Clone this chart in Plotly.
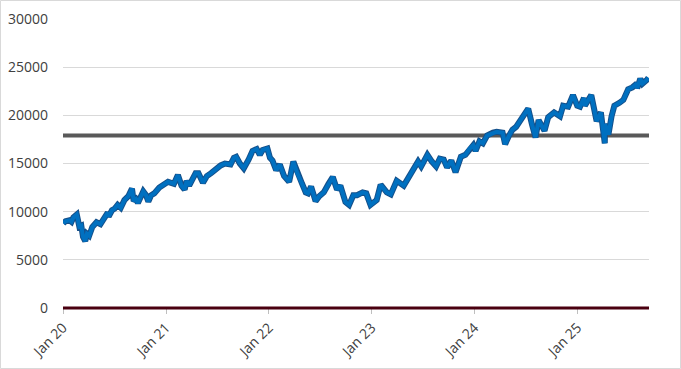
import plotly.graph_objects as go

dates = [
 "2020-01-02","2020-01-10","2020-01-24","2020-01-31","2020-02-07","2020-02-19","2020-02-28","2020-03-06","2020-03-12","2020-03-16","2020-03-20","2020-03-26","2020-04-03","2020-04-14","2020-04-29","2020-05-13","2020-05-29","2020-06-08","2020-06-11","2020-06-23","2020-07-02","2020-07-13","2020-07-24","2020-08-06","2020-08-20","2020-09-02","2020-09-08","2020-09-16","2020-09-23","2020-10-12","2020-10-22","2020-10-30","2020-11-09","2020-11-20","2020-12-08","2020-12-31",
 "2021-01-08","2021-01-29","2021-02-12","2021-02-25","2021-03-08","2021-03-15","2021-03-24","2021-04-16","2021-04-26","2021-05-12","2021-05-26","2021-06-10","2021-06-29","2021-07-14","2021-07-29","2021-08-18","2021-08-30","2021-09-07","2021-09-20","2021-10-04","2021-10-21","2021-11-04","2021-11-19","2021-11-30","2021-12-10","2021-12-27",
 "2022-01-05","2022-01-14","2022-01-27","2022-02-09","2022-02-24","2022-03-07","2022-03-14","2022-03-29","2022-04-12","2022-04-29","2022-05-12","2022-05-20","2022-05-31","2022-06-16","2022-06-29","2022-07-15","2022-08-01","2022-08-16","2022-08-31","2022-09-12","2022-09-30","2022-10-13","2022-10-28","2022-11-10","2022-11-30","2022-12-13","2022-12-28",
 "2023-01-19","2023-02-02","2023-02-24","2023-03-10","2023-03-31","2023-04-25","2023-05-30","2023-06-15","2023-06-26","2023-07-18","2023-08-03","2023-08-18","2023-08-31","2023-09-14","2023-09-26","2023-10-11","2023-10-26","2023-11-14","2023-11-30","2023-12-14","2023-12-28",
 "2024-01-05","2024-01-19","2024-01-31","2024-02-15","2024-03-07","2024-03-20","2024-04-10","2024-04-19","2024-05-03","2024-05-15","2024-05-28","2024-06-18","2024-07-10","2024-07-24","2024-08-05","2024-08-16","2024-09-06","2024-09-19","2024-10-10","2024-10-31","2024-11-11","2024-11-29","2024-12-16","2024-12-31",
 "2025-01-10","2025-01-24","2025-01-27","2025-02-19","2025-02-28","2025-03-10","2025-03-25","2025-04-04","2025-04-08","2025-04-09","2025-04-21","2025-05-02","2025-05-12","2025-05-30","2025-06-13","2025-06-30","2025-07-15","2025-07-31","2025-08-01","2025-08-12","2025-08-20","2025-09-05","2025-09-10",
]
index_values = [
 8800,9000,9100,8950,9400,9700,8450,8550,7400,7050,6950,7700,7500,8400,8900,8700,9550,9900,9500,10150,10300,10700,10400,11200,11600,12400,11100,11300,10900,12100,11700,11050,11700,11900,12500,12900,
 13100,12900,13800,12700,12300,13200,12700,14000,14000,13000,13700,14000,14500,14800,15000,14900,15600,15700,15000,14500,15400,16300,16500,15900,16400,16550,
 15600,15300,14300,14900,13700,13300,13100,15200,14000,12900,12000,11900,12600,11100,11600,12000,12900,13600,12300,12700,11000,10700,11700,11700,12000,11900,10700,
 11200,12800,12000,11800,13200,12700,14300,15200,14700,15900,15200,14700,15500,15400,14600,15300,14100,15700,15900,16500,16900,
 16300,17300,17100,17900,18200,18300,18200,17000,17900,18500,18800,19800,20700,19000,17700,19500,18400,19800,20300,19900,21000,20900,22100,21000,
 20900,21800,21000,22100,20900,19400,20300,17500,17100,19100,18000,19900,21000,21300,21600,22700,22900,23300,22800,23800,23300,23700,23900,
]
reference_level = 17900
baseline_level = 0
x_start = "2020-01-01"
x_end = "2025-09-12"
tick_dates = ["2020-01-01","2021-01-01","2022-01-01","2023-01-01","2024-01-01","2025-01-01"]
tick_labels = ["Jan 20","Jan 21","Jan 22","Jan 23","Jan 24","Jan 25"]
y_ticks = [0,5000,10000,15000,20000,25000,30000]
y_max = 30000

fig = go.Figure()
fig.add_trace(go.Scatter(x=[x_start, x_end], y=[reference_level]*2, mode="lines",
                         line=dict(color="#595959", width=4), hoverinfo="skip"))
fig.add_trace(go.Scatter(x=dates, y=index_values, mode="lines",
                         line=dict(color="#15508a", width=6), hoverinfo="skip"))
fig.add_trace(go.Scatter(x=dates, y=index_values, mode="lines",
                         line=dict(color="#0070c0", width=4)))

fig.update_layout(
    width=681, height=369,
    margin=dict(l=63, r=32, t=19, b=61),
    paper_bgcolor="white", plot_bgcolor="white",
    showlegend=False,
    font=dict(family="Open Sans", color="#404040"),
    xaxis=dict(range=[x_start, x_end], tickvals=tick_dates, ticktext=tick_labels,
               tickangle=-45, ticks="outside", ticklen=5, tickcolor="#bfbfbf",
               showgrid=False, zeroline=False, showline=False, automargin=False,
               tickfont=dict(size=14, color="#404040")),
    yaxis=dict(range=[0, y_max], tickvals=y_ticks, ticktext=[str(v) for v in y_ticks],
               showgrid=True, gridcolor="#d9d9d9",
               gridwidth=1, zeroline=False, showline=False, automargin=False,
               tickfont=dict(size=14, color="#404040"), ticklabelstandoff=14),
    shapes=[
        dict(type="rect", xref="paper", yref="paper",
             x0=(0.5-63)/586, x1=(680.5-63)/586, y0=(308-368.5)/289, y1=(308-0.5)/289,
             line=dict(color="#d9d9d9", width=1), fillcolor="rgba(0,0,0,0)", layer="below"),
        dict(type="line", xref="paper", yref="paper", x0=0, x1=1,
             y0=baseline_level / y_max, y1=baseline_level / y_max,
             line=dict(color="#4a0010", width=3), layer="above"),
    ],
)
fig.write_html("out.html", config={"displayModeBar": False},
               post_script="document.body.style.margin='0';document.body.style.overflow='hidden';")
